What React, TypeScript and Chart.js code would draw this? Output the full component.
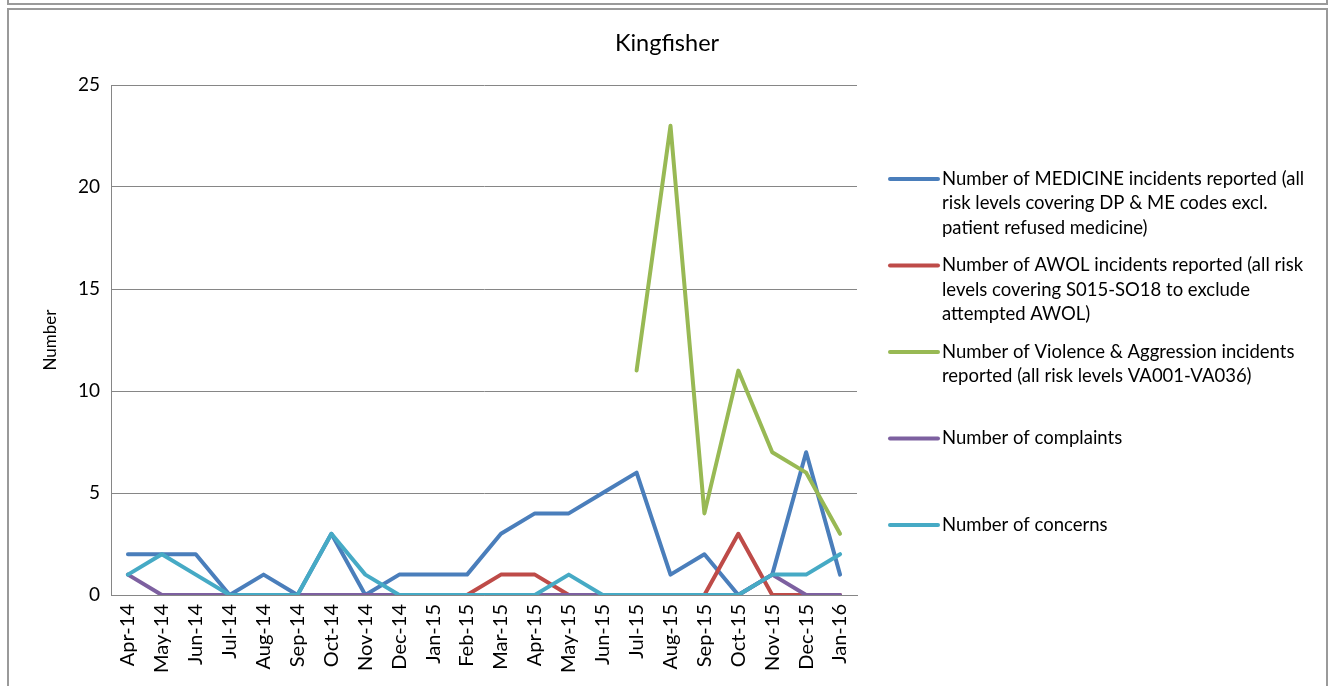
import React, { useEffect, useRef } from "react";
import { Chart, registerables } from "chart.js";

Chart.register(...registerables);

const months = [
  "Apr-14", "May-14", "Jun-14", "Jul-14", "Aug-14", "Sep-14", "Oct-14", "Nov-14",
  "Dec-14", "Jan-15", "Feb-15", "Mar-15", "Apr-15", "May-15", "Jun-15", "Jul-15",
  "Aug-15", "Sep-15", "Oct-15", "Nov-15", "Dec-15", "Jan-16",
];

const medicine = [2, 2, 2, 0, 1, 0, 3, 0, 1, 1, 1, 3, 4, 4, 5, 6, 1, 2, 0, 1, 7, 1];
const awol = [null, 0, 0, 0, 0, 0, 0, 0, 0, 0, 0, 1, 1, 0, 0, 0, 0, 0, 3, 0, 0, 0];
const violence = [null, null, null, null, null, null, null, null, null, null, null, null, null, null, null, 11, 23, 4, 11, 7, 6, 3];
const complaints = [1, 0, 0, 0, 0, 0, 0, 0, 0, 0, 0, 0, 0, 0, 0, 0, 0, 0, 0, 1, 0, 0];
const concerns = [1, 2, 1, 0, 0, 0, 3, 1, 0, 0, 0, 0, 0, 1, 0, 0, 0, 0, 0, 1, 1, 2];

const yTicks = [0, 5, 10, 15, 20, 25];

const chartTitle = "Kingfisher";

const legendLines = [
  ["Number of MEDICINE incidents reported (all", "risk levels covering DP & ME codes excl.", "patient refused medicine)"],
  ["Number of AWOL incidents reported (all risk", "levels covering S015-SO18 to exclude", "attempted AWOL)"],
  ["Number of Violence & Aggression incidents", "reported (all risk levels VA001-VA036)"],
  ["Number of complaints"],
  ["Number of concerns"],
];

const seriesColors = ["#4A7EBB", "#BE4B48", "#98B954", "#7D60A0", "#46AAC5"];
const seriesValues = [medicine, awol, violence, complaints, concerns];

const FONT = "Lato, 'Open Sans', sans-serif";

const decorPlugin = {
  id: "decor",
  afterDraw(chart: any) {
    const ctx = chart.ctx;
    ctx.save();
    // title
    ctx.font = `23.5px ${FONT}`;
    ctx.fillStyle = "#000";
    ctx.textAlign = "center";
    ctx.textBaseline = "middle";
    ctx.fillText(chartTitle, 667, 43);
    // legend
    const x0 = 890;
    const x1 = 938;
    const tx = 942;
    const startY = 179;
    const step = 86.5;
    const lh = 24.5;
    ctx.font = `18.5px ${FONT}`;
    ctx.textAlign = "left";
    legendLines.forEach((lines, i) => {
      const y = startY + i * step;
      ctx.strokeStyle = seriesColors[i];
      ctx.lineWidth = 4;
      ctx.lineCap = "round";
      ctx.beginPath();
      ctx.moveTo(x0, y);
      ctx.lineTo(x1, y);
      ctx.stroke();
      lines.forEach((t, j) => {
        ctx.fillText(t, tx, y + j * lh);
      });
    });
    ctx.restore();
  },
};

export default function App() {
  const ref = useRef<HTMLCanvasElement | null>(null);

  useEffect(() => {
    if (!ref.current) return;
    const chart = new Chart(ref.current, {
      type: "line",
      data: {
        labels: months,
        datasets: seriesValues.map((vals, i) => ({
          label: legendLines[i].join(" "),
          data: vals,
          borderColor: seriesColors[i],
          backgroundColor: seriesColors[i],
          borderWidth: 4,
          pointRadius: 0,
          pointHoverRadius: 0,
          tension: 0,
          fill: false,
          spanGaps: false,
          borderCapStyle: "round",
          borderJoinStyle: "round",
          order: 5 - i,
        })),
      },
      options: {
        animation: false,
        responsive: false,
        events: [],
        layout: { padding: { left: 36, top: 85, right: 477, bottom: 11 } },
        plugins: {
          legend: { display: false },
          tooltip: { enabled: false },
          title: { display: false },
        },
        scales: {
          x: {
            offset: true,
            grid: { display: false, drawTicks: false },
            border: { display: true, color: "#868686", width: 1 },
            ticks: {
              color: "#000",
              font: { family: FONT, size: 20 },
              minRotation: 90,
              maxRotation: 90,
              autoSkip: false,
              padding: 9,
            },
            afterFit: (s: any) => {
              s.height = 80;
            },
          },
          y: {
            min: 0,
            max: 25,
            afterBuildTicks: (s: any) => {
              s.ticks = yTicks.map((v) => ({ value: v }));
            },
            grid: { color: "#868686", lineWidth: 1, drawTicks: false },
            border: { display: true, color: "#868686", width: 1 },
            ticks: {
              color: "#000",
              font: { family: FONT, size: 19 },
              padding: 11,
            },
            title: {
              display: true,
              text: "Number",
              color: "#000",
              font: { family: FONT, size: 17 },
              padding: { top: 4, bottom: 4 },
            },
            afterFit: (s: any) => {
              s.width = 75;
            },
          },
        },
      },
      plugins: [decorPlugin],
    });
    return () => chart.destroy();
  }, []);

  return (
    <div style={{ position: "absolute", left: 0, top: 0, width: 1334, height: 686, overflow: "hidden", background: "#fff" }}>
      <div style={{ position: "absolute", left: 7, top: -12, width: 1317, height: 13, border: "2px solid #9a9a9a" }} />
      <div style={{ position: "absolute", left: 7, top: 8, width: 1317, height: 700, border: "2px solid #9a9a9a" }} />
      <canvas ref={ref} width={1334} height={686} style={{ position: "absolute", left: 0, top: 0 }} />
    </div>
  );
}
